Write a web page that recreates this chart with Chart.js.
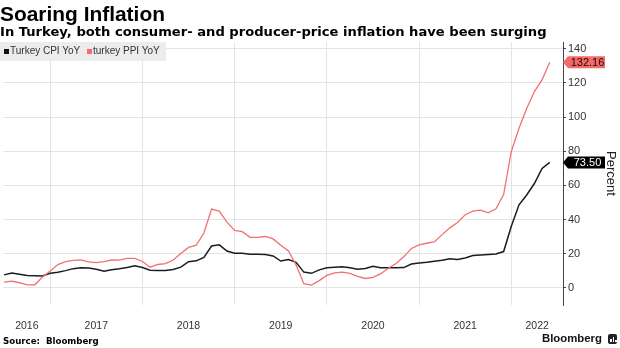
<!DOCTYPE html>
<html><head><meta charset="utf-8">
<script src="https://cdn.jsdelivr.net/npm/chart.js@4.4.1/dist/chart.umd.min.js"></script>
<style>
html,body{margin:0;padding:0;background:#fff;}
#wrap{position:relative;width:620px;height:348px;overflow:hidden;}
#chart{position:absolute;left:0;top:0;}
.t{position:absolute;white-space:nowrap;line-height:1;}
#title{left:0;top:4px;font-family:"Liberation Sans";font-weight:bold;font-size:21px;color:#000;}
#subtitle{left:0;top:25px;font-family:"DejaVu Sans";font-weight:bold;font-size:12px;color:#000;}
#legend{position:absolute;left:0;top:42px;width:166px;height:19px;background:#ececec;font-family:"Liberation Sans";font-size:10px;color:#333;}
#legend .sq{position:absolute;top:7px;width:5px;height:5px;}
#legend .lt{position:absolute;top:4px;line-height:1;white-space:nowrap;}
#source{left:3px;top:337px;font-family:"DejaVu Sans";font-weight:bold;font-size:9px;color:#000;}
#brand{left:542px;top:333px;font-family:"Liberation Sans";font-weight:bold;font-size:12.5px;color:#111;}
#logo{position:absolute;left:608px;top:334px;width:9px;height:10px;background:#222;border-radius:2px;}
#logo i{position:absolute;bottom:2px;width:1.5px;background:#fff;}
</style>
</head><body>
<div id="wrap">
<canvas id="chart" width="620" height="348"></canvas>
<div class="t" id="title">Soaring Inflation</div>
<div class="t" id="subtitle">In Turkey, both consumer- and producer-price inflation have been surging</div>
<div id="legend">
  <div class="sq" style="left:4px;background:#111;"></div><div class="lt" style="left:10px;">Turkey CPI YoY</div>
  <div class="sq" style="left:87px;background:#f36b6b;"></div><div class="lt" style="left:93px;">turkey PPI YoY</div>
</div>
<div class="t" id="source">Source:&nbsp; Bloomberg</div>
<div class="t" id="brand">Bloomberg</div>
<div id="logo"><i style="left:2px;height:3px"></i><i style="left:4.5px;height:5px"></i><i style="left:7px;height:2px"></i></div>
</div>
<script>
// ---- data ----
const months = [
 '2016-06','2016-07','2016-08','2016-09','2016-10','2016-11','2016-12',
 '2017-01','2017-02','2017-03','2017-04','2017-05','2017-06','2017-07','2017-08','2017-09','2017-10','2017-11','2017-12',
 '2018-01','2018-02','2018-03','2018-04','2018-05','2018-06','2018-07','2018-08','2018-09','2018-10','2018-11','2018-12',
 '2019-01','2019-02','2019-03','2019-04','2019-05','2019-06','2019-07','2019-08','2019-09','2019-10','2019-11','2019-12',
 '2020-01','2020-02','2020-03','2020-04','2020-05','2020-06','2020-07','2020-08','2020-09','2020-10','2020-11','2020-12',
 '2021-01','2021-02','2021-03','2021-04','2021-05','2021-06','2021-07','2021-08','2021-09','2021-10','2021-11','2021-12',
 '2022-01','2022-02','2022-03','2022-04','2022-05'
];
const cpi = [
 7.64,8.79,8.05,7.28,7.16,7.00,8.53,
 9.22,10.13,11.29,11.87,11.72,10.90,9.79,10.68,11.20,11.90,12.98,11.92,
 10.35,10.26,10.23,10.85,12.15,15.39,15.85,17.90,24.52,25.24,21.62,20.30,
 20.35,19.67,19.71,19.50,18.71,15.72,16.65,15.01,9.26,8.55,10.56,11.84,
 12.15,12.37,11.86,10.94,11.39,12.62,11.76,11.77,11.75,11.89,14.03,14.60,
 14.97,15.61,16.19,17.14,16.59,17.53,18.95,19.25,19.58,19.89,21.31,36.08,
 48.69,54.44,61.14,69.97,73.50
];
const ppi = [
 3.41,3.96,3.03,1.78,1.84,6.41,9.94,
 13.69,15.36,16.09,16.37,15.26,14.87,15.45,16.34,16.28,17.28,17.30,15.47,
 12.14,13.71,14.28,16.37,20.16,23.71,25.00,32.13,46.15,45.01,38.54,33.64,
 32.93,29.59,29.64,30.12,28.71,25.04,21.66,13.45,2.45,1.70,4.26,7.36,
 8.84,9.26,8.50,6.71,5.53,6.17,8.33,11.53,14.33,18.20,23.11,25.15,
 26.16,27.09,31.20,35.17,38.33,42.89,44.92,45.52,43.96,46.31,54.62,79.89,
 93.53,105.01,114.97,121.82,132.16
];
const yTicks = [0,20,40,60,80,100,120,140];
const yearLabels = ['2016','2017','2018','2019','2020','2021','2022'];
const yearBoundaries = [2017,2018,2019,2020,2021,2022];

// ---- helpers ----
const xMin = 2016.4935, xMax = 2022.5603;
function monthEnd(s){ const p = s.split('-').map(Number); return p[0] + p[1]/12; }
const labelPos = yearLabels.map(y => { const a = Math.max(+y, xMin), b = Math.min(+y + 1, xMax); return (a + b) / 2; });

function fitWidth(id, target){
  const el = document.getElementById(id);
  const fs = parseFloat(getComputedStyle(el).fontSize);
  const w = el.getBoundingClientRect().width;
  el.style.fontSize = (fs * target / w) + 'px';
}
fitWidth('title', 165);
fitWidth('subtitle', 547);
fitWidth('source', 96);
fitWidth('brand', 60);

const tagPlugin = {
  id: 'tags',
  afterDraw(chart){
    const ctx = chart.ctx, ys = chart.scales.y, r = chart.chartArea.right;
    const tags = [
      {v: ppi[ppi.length-1], fill:'#f26b6b', text:'#2a0000'},
      {v: cpi[cpi.length-1], fill:'#000000', text:'#ffffff'}
    ];
    ctx.save();
    tags.forEach(t => {
      const yc = ys.getPixelForValue(t.v);
      const h = 12, x0 = r, x1 = r + 5, x2 = 605;
      ctx.beginPath();
      ctx.moveTo(x0, yc);
      ctx.lineTo(x1, yc - h/2);
      ctx.lineTo(x2, yc - h/2);
      ctx.lineTo(x2, yc + h/2);
      ctx.lineTo(x1, yc + h/2);
      ctx.closePath();
      ctx.fillStyle = t.fill; ctx.fill();
      ctx.fillStyle = t.text;
      ctx.font = '11px "Liberation Sans"';
      ctx.textAlign = 'center'; ctx.textBaseline = 'middle';
      ctx.fillText(t.v.toFixed(2), (x1 + x2)/2 + 1, yc + 0.5);
    });
    ctx.restore();
  }
};

new Chart(document.getElementById('chart'), {
  type: 'line',
  data: {
    datasets: [
      {label:'turkey PPI YoY', data: months.map((m,i)=>({x:monthEnd(m), y:ppi[i]})),
       borderColor:'#f27070', borderWidth:1.3, pointRadius:0, tension:0, xAxisID:'x', yAxisID:'y'},
      {label:'Turkey CPI YoY', data: months.map((m,i)=>({x:monthEnd(m), y:cpi[i]})),
       borderColor:'#1c1c1c', borderWidth:1.5, pointRadius:0, tension:0, xAxisID:'x', yAxisID:'y'}
    ]
  },
  options: {
    responsive:false, animation:false, devicePixelRatio:1,
    layout:{padding:{top:42,left:0,right:0,bottom:0}},
    plugins:{legend:{display:false}, tooltip:{enabled:false}},
    scales:{
      x:{type:'linear', min:xMin, max:xMax, position:'bottom',
         afterBuildTicks(s){ s.ticks = yearBoundaries.map(v=>({value:v})); },
         ticks:{display:false}, grid:{color:'#e4e4e4', drawTicks:false}, border:{display:false},
         afterFit(s){ s.height = 0; }},
      x2:{type:'linear', min:xMin, max:xMax, position:'bottom',
         afterBuildTicks(s){ s.ticks = labelPos.map(v=>({value:v})); },
         ticks:{padding:15, color:'#333', font:{family:'Liberation Sans', size:10.5}, maxRotation:0, minRotation:0, autoSkip:false,
                callback:(v,i)=>yearLabels[i]},
         grid:{display:false, drawTicks:false}, border:{display:false},
         afterFit(s){ s.height = 43; }},
      y:{position:'right', min:-10, max:144,
         afterBuildTicks(s){ s.ticks = yTicks.map(v=>({value:v})); },
         ticks:{padding:2, color:'#333', font:{family:'Liberation Sans', size:11}},
         grid:{color:'#e4e4e4', drawTicks:true, tickLength:3, tickColor:'#444'},
         border:{display:true, color:'#444', width:1},
         title:{display:true, text:'Percent', color:'#222', font:{family:'Liberation Sans', size:13}, padding:{top:2, bottom:0}},
         afterFit(s){ s.width = 57; }}
    }
  },
  plugins:[tagPlugin]
});
</script>
</body></html>
